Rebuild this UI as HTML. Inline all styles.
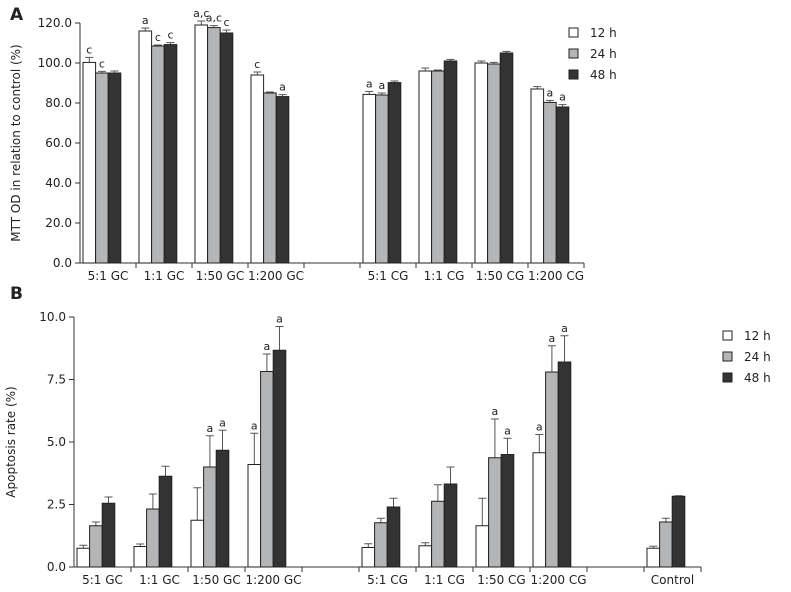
<!DOCTYPE html>
<html><head><meta charset="utf-8"><style>
body{margin:0;background:#fff;}
svg{display:block;font-family:"DejaVu Sans","Liberation Sans",sans-serif;}
</style></head><body>
<svg id="chart" width="791" height="592"></svg>
<script>
const catsA=["5:1 GC","1:1 GC","1:50 GC","1:200 GC","","5:1 CG","1:1 CG","1:50 CG","1:200 CG"];
const a12=[100.3,116,119,94,null,84.3,96,100,87];
const a24=[95,108.5,117.7,85,null,84,96,99.5,80.3];
const a48=[95,109.2,115,83.2,null,90.2,101,105,78];
const aErr12=[2.5,1.5,2,1.5,null,1.5,1.5,1,1.2];
const aErr24=[0.8,0.5,1,0.5,null,1,0.5,0.8,1];
const aErr48=[1,1,1.5,1,null,0.8,0.8,0.8,1.2];
const aNote12=["c","a","a,c","c","","a","","",""];
const aNote24=["c","c","a,c","","","a","","","a"];
const aNote48=["","c","c","a","","","","","a"];
const ticksA=[0,20,40,60,80,100,120];

const catsB=["5:1 GC","1:1 GC","1:50 GC","1:200 GC","","5:1 CG","1:1 CG","1:50 CG","1:200 CG","","Control"];
const b12=[0.75,0.82,1.87,4.1,null,0.78,0.85,1.65,4.57,null,0.75];
const b24=[1.65,2.32,4.0,7.82,null,1.77,2.63,4.37,7.8,null,1.8];
const b48=[2.55,3.63,4.67,8.67,null,2.4,3.32,4.5,8.2,null,2.83];
const bErr12=[0.12,0.1,1.3,1.25,null,0.15,0.12,1.1,0.73,null,0.08];
const bErr24=[0.15,0.6,1.25,0.7,null,0.18,0.66,1.55,1.05,null,0.15];
const bErr48=[0.25,0.4,0.8,0.95,null,0.35,0.68,0.65,1.05,null,0.02];
const bNote12=["","","","a","","","","","a","",""];
const bNote24=["","","a","a","","","","a","a","",""];
const bNote48=["","","a","a","","","","a","a","",""];
const ticksB=[0,2.5,5,7.5,10];
const legendLabels=["12 h","24 h","48 h"];

const NS="http://www.w3.org/2000/svg";
const svg=document.getElementById("chart");
function mk(t,attrs,parent){const e=document.createElementNS(NS,t);for(const k in attrs)e.setAttribute(k,attrs[k]);(parent||svg).appendChild(e);return e;}
const fills=["#ffffff","#b4b5b7","#333333"];

function panel(p){
  const g=mk("g",{});
  
  
  const y=v=>p.y0-(v-p.min)/(p.max-p.min)*(p.y0-p.y1);
  const x=i=>p.x0+i*p.slot;
  // axes
  const ya=mk("line",{x1:p.x0,y1:p.y1,x2:p.x0,y2:p.y0,stroke:"#333","stroke-width":1},g);
  
  const xa=mk("line",{x1:p.x0,y1:p.y0,x2:x(p.cats.length),y2:p.y0,stroke:"#333","stroke-width":1},g);
  
  p.ticks.forEach(t=>{
    mk("line",{x1:p.x0-5,y1:y(t),x2:p.x0,y2:y(t),stroke:"#333"},g);
    const tl=mk("text",{x:p.x0-8,y:y(t)+4,"text-anchor":"end","font-size":12,fill:"#222"},g);
    tl.textContent=t.toFixed(1);
    
  });
  for(let i=1;i<=p.cats.length;i++) mk("line",{x1:x(i),y1:p.y0,x2:x(i),y2:p.y0+5,stroke:"#333"},g);
  const series=[p.s12,p.s24,p.s48],errs=[p.e12,p.e24,p.e48],notes=[p.n12,p.n24,p.n48];
  const bw=12.6;
  p.cats.forEach((c,i)=>{
    if(c){
      const cl=mk("text",{x:x(i)+p.slot/2,y:p.y0+17,"text-anchor":"middle","font-size":12,fill:"#222"},g);
      cl.textContent=c;
      
    }
    series.forEach((s,k)=>{
      const v=s[i]; if(v==null)return;
      const bx=x(i)+3+k*bw;
      const top=y(v+errs[k][i]);
      mk("line",{x1:bx+bw/2,y1:y(v),x2:bx+bw/2,y2:top,stroke:"#555"},g);
      mk("line",{x1:bx+bw/2-4,y1:top,x2:bx+bw/2+4,y2:top,stroke:"#555"},g);
      const r=mk("rect",{x:bx,y:y(v),width:bw,height:p.y0-y(v),fill:fills[k],stroke:"#222","stroke-width":1},g);
      
      
      const n=notes[k][i];
      if(n){const nt=mk("text",{x:bx+bw/2,y:top-4,"text-anchor":"middle","font-size":11,fill:"#222"},g);nt.textContent=n;
        }
    });
  });
  // title
  const tt=mk("text",{transform:`translate(${p.tx},${(p.y0+p.y1)/2}) rotate(-90)`,"text-anchor":"middle","font-size":12,fill:"#222"},g);
  tt.textContent=p.title;
  const lt=mk("text",{x:10,y:p.letterY,"font-size":17,"font-weight":"bold",fill:"#222"},g);
  lt.textContent=p.letter;
  legendLabels.forEach((l,k)=>{
    const ly=p.ly+k*p.ld;
    const b=mk("rect",{x:p.lx,y:ly,width:9,height:9,fill:fills[k],stroke:"#222"},g);
    
    const t=mk("text",{x:p.lx+21,y:ly+9,"font-size":12,fill:"#222"},g);
    t.textContent=l;
  });
}
panel({name:"panel-a-mtt-chart",cats:catsA,s12:a12,s24:a24,s48:a48,e12:aErr12,e24:aErr24,e48:aErr48,n12:aNote12,n24:aNote24,n48:aNote48,
  ticks:ticksA,min:0,max:120,x0:80,slot:56,y0:263,y1:23,title:"MTT OD in relation to control (%)",tx:20,letter:"A",letterY:20,lx:569,ly:28,ld:21});
panel({name:"panel-b-apoptosis-chart",cats:catsB,s12:b12,s24:b24,s48:b48,e12:bErr12,e24:bErr24,e48:bErr48,n12:bNote12,n24:bNote24,n48:bNote48,
  ticks:ticksB,min:0,max:10,x0:74,slot:57,y0:567,y1:317,title:"Apoptosis rate (%)",tx:15,letter:"B",letterY:299,lx:723,ly:331,ld:21});
</script>
</body></html>
